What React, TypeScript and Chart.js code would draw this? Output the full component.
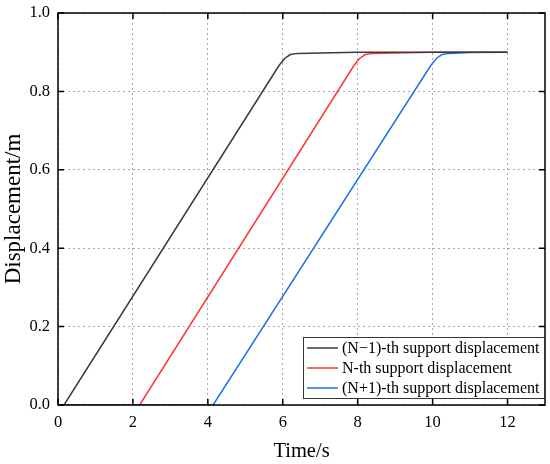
import { useEffect, useRef } from 'react'
import { Chart, registerables } from 'chart.js'

Chart.register(...registerables)

// time (s) / displacement (m)
const prevTime = [0, 0.16, 5.9, 6.05, 6.2, 6.4, 7.0, 8.0, 12]
const prevDisp = [0, 0, 0.866, 0.884, 0.894, 0.897, 0.898, 0.9, 0.9]

const curTime = [0, 2.18, 7.9, 8.05, 8.2, 8.4, 9.0, 10.0, 12]
const curDisp = [0, 0, 0.866, 0.884, 0.894, 0.897, 0.898, 0.9, 0.9]

const nextTime = [0, 4.14, 9.95, 10.1, 10.25, 10.45, 11.0, 12]
const nextDisp = [0, 0, 0.866, 0.884, 0.894, 0.897, 0.899, 0.9]

const seriesNames = [
  '(N\u22121)-th support displacement',
  'N-th support displacement',
  '(N+1)-th support displacement',
]
const seriesColors = ['#3a3a3a', '#ff3535', '#1a72f0']

const xTicks = [0, 2, 4, 6, 8, 10, 12]
const yTicks = [0, 0.2, 0.4, 0.6, 0.8, 1.0]

const FONT = '"Liberation Serif", "Times New Roman", serif'

const toPoints = (xs: number[], ys: number[]) => xs.map((x, i) => ({ x, y: ys[i] }))

// frame, inner ticks and boxed legend inside the plot
const framePlugin = {
  id: 'frame',
  afterDatasetsDraw(chart: any) {
    const { ctx, chartArea: a, scales } = chart
    const xs = scales.x
    const ys = scales.y
    ctx.save()
    ctx.strokeStyle = '#000'
    ctx.lineWidth = 1.5
    ctx.strokeRect(a.left, a.top, a.right - a.left, a.bottom - a.top)
    ctx.beginPath()
    xTicks.forEach((v) => {
      const px = xs.getPixelForValue(v)
      ctx.moveTo(px, a.bottom)
      ctx.lineTo(px, a.bottom - 6)
      ctx.moveTo(px, a.top)
      ctx.lineTo(px, a.top + 6)
    })
    yTicks.forEach((v) => {
      const py = ys.getPixelForValue(v)
      ctx.moveTo(a.left, py)
      ctx.lineTo(a.left + 6, py)
      ctx.moveTo(a.right, py)
      ctx.lineTo(a.right - 6, py)
    })
    ctx.stroke()

    // legend
    const boxL = 303
    const boxT = 337
    const boxR = a.right
    const boxB = a.bottom - 6
    ctx.fillStyle = '#fff'
    ctx.fillRect(boxL, boxT, boxR - boxL, boxB - boxT)
    ctx.strokeStyle = '#333'
    ctx.lineWidth = 1
    ctx.strokeRect(boxL + 0.5, boxT + 0.5, boxR - boxL - 1, boxB - boxT - 1)
    ctx.font = '16px ' + FONT
    ctx.textBaseline = 'middle'
    ctx.textAlign = 'left'
    seriesNames.forEach((name, i) => {
      const cy = boxT + 11 + i * 20
      ctx.strokeStyle = seriesColors[i]
      ctx.lineWidth = 1.5
      ctx.beginPath()
      ctx.moveTo(307, cy)
      ctx.lineTo(338, cy)
      ctx.stroke()
      ctx.fillStyle = '#000'
      ctx.fillText(name, 342, cy + 1)
    })
    ctx.restore()
  },
}

export default function App() {
  const canvasRef = useRef<HTMLCanvasElement>(null)

  useEffect(() => {
    const ctx = canvasRef.current!.getContext('2d')!
    const chart = new Chart(ctx, {
      type: 'line',
      data: {
        datasets: [
          { label: seriesNames[0], data: toPoints(prevTime, prevDisp) },
          { label: seriesNames[1], data: toPoints(curTime, curDisp) },
          { label: seriesNames[2], data: toPoints(nextTime, nextDisp) },
        ].map((d, i) => ({
          ...d,
          borderColor: seriesColors[i],
          backgroundColor: seriesColors[i],
          borderWidth: 1.5,
          pointRadius: 0,
          tension: 0,
          fill: false,
        })),
      },
      options: {
        animation: false,
        responsive: false,
        layout: { padding: { top: 13, right: 5, left: 0, bottom: 0 } },
        plugins: {
          legend: { display: false },
          tooltip: { enabled: false },
        },
        scales: {
          x: {
            type: 'linear',
            min: 0,
            max: 13,
            afterFit: (s: any) => {
              s.height = 59
              s.paddingLeft = 0
              s.paddingRight = 0
            },
            afterBuildTicks: (s: any) => {
              s.ticks = xTicks.map((v) => ({ value: v }))
            },
            grid: { color: '#aaaaaa', lineWidth: 1, drawTicks: false },
            border: { display: false, dash: [2, 3] },
            ticks: {
              color: '#000',
              padding: 8,
              font: { family: FONT, size: 16.5 },
              callback: (v: any) => String(v),
            },
            title: {
              display: true,
              text: 'Time/s',
              color: '#000',
              font: { family: FONT, size: 20.5 },
              padding: { top: 0, bottom: 0 },
            },
          },
          y: {
            type: 'linear',
            min: 0,
            max: 1,
            afterFit: (s: any) => {
              s.width = 58
              s.paddingTop = 0
              s.paddingBottom = 0
            },
            afterBuildTicks: (s: any) => {
              s.ticks = yTicks.map((v) => ({ value: v }))
            },
            grid: { color: '#aaaaaa', lineWidth: 1, drawTicks: false },
            border: { display: false, dash: [2, 3] },
            ticks: {
              color: '#000',
              padding: 8,
              font: { family: FONT, size: 16.5 },
              callback: (v: any) => Number(v).toFixed(1),
            },
            title: {
              display: true,
              text: 'Displacement/m',
              color: '#000',
              font: { family: FONT, size: 23 },
              padding: { top: 0, bottom: 0 },
            },
          },
        },
      },
      plugins: [framePlugin],
    })
    return () => chart.destroy()
  }, [])

  return (
    <div style={{ position: 'absolute', left: 0, top: 0, width: 550, height: 464, background: '#fff' }}>
      <canvas ref={canvasRef} width={550} height={464} style={{ width: 550, height: 464 }} />
    </div>
  )
}
